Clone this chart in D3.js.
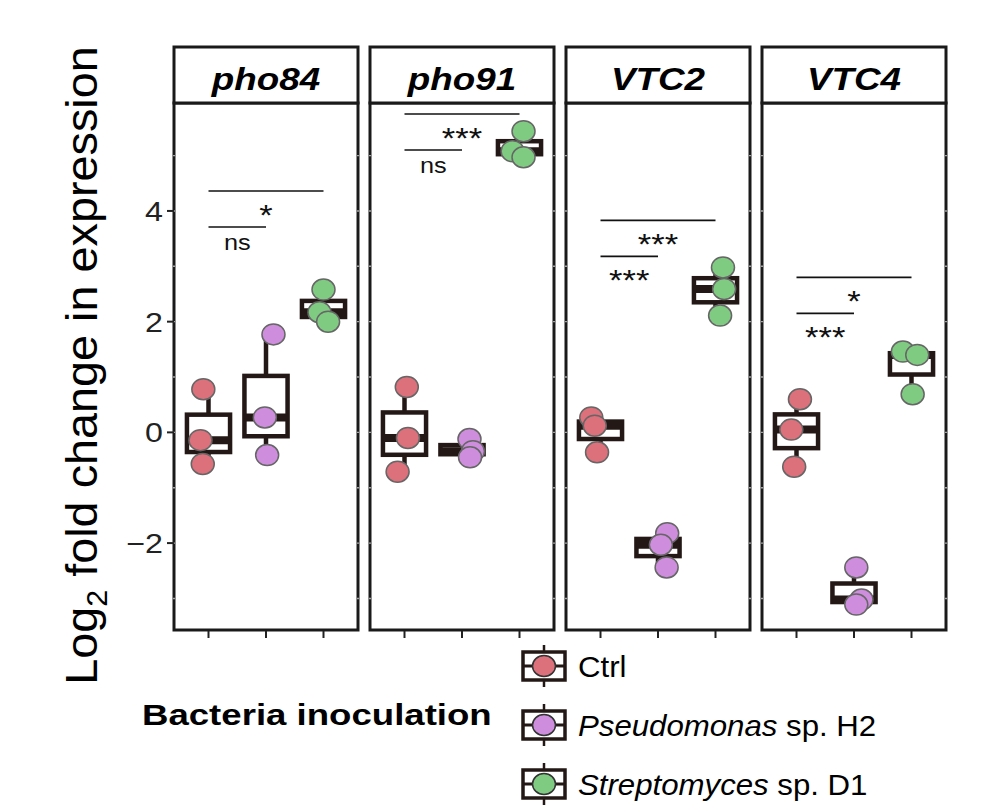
<!DOCTYPE html>
<html><head><meta charset="utf-8">
<script src="https://cdn.jsdelivr.net/npm/d3@7"></script>
<style>body{margin:0;background:#fff} svg{display:block} text{font-family:"Liberation Sans", Arial, sans-serif}</style>
</head><body>
<svg id="chart" width="1007" height="809"></svg>
<script>
// ---------------- data ----------------
const genes = ["pho84", "pho91", "VTC2", "VTC4"];
const groups = ["Ctrl", "Pseudomonas sp. H2", "Streptomyces sp. D1"];
const groupItalic = ["", "Pseudomonas", "Streptomyces"];
const groupRest = ["Ctrl", " sp. H2", " sp. D1"];
const groupColors = ["#dc707b", "#cf8edd", "#80cb82"];

// log2 fold change, three replicates per group (Ctrl, Pseudomonas, Streptomyces)
const pho84 = [[0.78, -0.14, -0.57], [1.77, 0.27, -0.41], [2.58, 2.17, 2.00]];
const pho91 = [[0.82, -0.10, -0.71], [-0.12, -0.34, -0.45], [5.44, 5.08, 4.97]];
const VTC2  = [[0.27, 0.12, -0.36], [-1.82, -2.03, -2.44], [2.98, 2.59, 2.11]];
const VTC4  = [[0.60, 0.05, -0.62], [-2.44, -3.02, -3.11], [1.46, 1.40, 0.69]];

// horizontal jitter of the replicate points (in category units)
const jit84 = [[-0.09, -0.14, -0.10], [0.13, -0.02, 0.02], [0.00, -0.07, 0.08]];
const jit91 = [[0.04, 0.06, -0.12], [0.13, 0.19, 0.14], [0.07, -0.12, 0.07]];
const jitV2 = [[-0.16, -0.10, -0.06], [0.16, 0.05, 0.15], [0.13, 0.15, 0.08]];
const jitV4 = [[0.06, -0.09, -0.04], [0.04, 0.13, 0.04], [-0.15, 0.10, 0.02]];

// significance brackets: [Ctrl vs Strep, Ctrl vs Pseudo] heights and labels
const sigY = [[4.36, 3.71], [5.75, 5.10], [3.83, 3.18], [2.80, 2.15]];
const sigLab = [["*", "ns"], ["***", "ns"], ["***", "***"], ["*", "***"]];

const yTicks = [-2, 0, 2, 4];
const yGrid = [-3, -2, -1, 0, 1, 2, 3, 4, 5];
const yDomain = [-3.57, 5.95];

const geneValues = [pho84, pho91, VTC2, VTC4];
const geneJitter = [jit84, jit91, jitV2, jitV4];

// ---------------- layout ----------------
const svg = d3.select("#chart");
const SX = 1.15;                  // horizontal text stretch of the original
const ink = "#231815";
const panelX0 = 174, panelW = 184, panelStep = 196;
const stripTop = 47, plotTop = 103, plotBottom = 630;

const y = d3.scaleLinear().domain(yDomain).range([plotBottom, plotTop]);
const panelScale = d3.scaleBand().domain(genes).range([panelX0, panelX0 + panelStep * 4]).paddingInner(0);

function stext(g, x, yy, str, opts) {
  const t = g.append("text")
    .attr("transform", `translate(${x},${yy}) scale(${opts.sx || SX},1)`)
    .attr("text-anchor", opts.anchor || "middle")
    .attr("font-size", opts.size)
    .attr("font-weight", opts.weight || "normal")
    .attr("font-style", opts.style || "normal")
    .attr("fill", opts.fill || "#000");
  if (str !== null) t.text(str);
  return t;
}

genes.forEach((gene, gi) => {
  const x0 = panelScale(gene);
  const g = svg.append("g");
  const x = d3.scalePoint().domain(groups).range([x0, x0 + panelW]).padding(0.6);
  const step = x.step();

  // panel background
  g.append("rect").attr("x", x0).attr("y", plotTop).attr("width", panelW)
    .attr("height", plotBottom - plotTop).attr("fill", "#fff");

  // significance brackets
  const pairs = [[groups[0], groups[2]], [groups[0], groups[1]]];
  pairs.forEach((p, k) => {
    const yy = y(sigY[gi][k]);
    const xa = x(p[0]), xb = x(p[1]);
    g.append("line").attr("x1", xa).attr("x2", xb).attr("y1", yy).attr("y2", yy)
      .attr("stroke", "#111").attr("stroke-width", 1.6);
    const lab = sigLab[gi][k];
    const isStar = lab.indexOf("*") >= 0;
    stext(g, (xa + xb) / 2, yy + (isStar ? 34 : 23), lab,
      {size: isStar ? 30 : 22, fill: "#111"});
  });

  // boxplots
  groups.forEach((grp, k) => {
    const vals = geneValues[gi][k].slice().sort(d3.ascending);
    const q1 = d3.quantile(vals, 0.25), med = d3.quantile(vals, 0.5), q3 = d3.quantile(vals, 0.75);
    const lo = d3.min(vals), hi = d3.max(vals);
    const cx = x(grp), hw = step * 0.375;
    g.append("line").attr("x1", cx).attr("x2", cx).attr("y1", y(hi)).attr("y2", y(q3))
      .attr("stroke", ink).attr("stroke-width", 4.5);
    g.append("line").attr("x1", cx).attr("x2", cx).attr("y1", y(q1)).attr("y2", y(lo))
      .attr("stroke", ink).attr("stroke-width", 4.5);
    g.append("rect").attr("x", cx - hw).attr("y", y(q3)).attr("width", 2 * hw)
      .attr("height", Math.max(0.1, y(q1) - y(q3)))
      .attr("fill", "#fff").attr("stroke", ink).attr("stroke-width", 4.5);
    g.append("line").attr("x1", cx - hw).attr("x2", cx + hw).attr("y1", y(med)).attr("y2", y(med))
      .attr("stroke", ink).attr("stroke-width", 8);
  });

  // points
  groups.forEach((grp, k) => {
    geneValues[gi][k].forEach((v, i) => {
      g.append("ellipse")
        .attr("cx", x(grp) + geneJitter[gi][k][i] * step)
        .attr("cy", y(v)).attr("rx", 11.5).attr("ry", 10.5)
        .attr("fill", groupColors[k]).attr("stroke", "#666").attr("stroke-width", 1.5);
    });
  });

  // panel border
  g.append("rect").attr("x", x0).attr("y", plotTop).attr("width", panelW)
    .attr("height", plotBottom - plotTop).attr("fill", "none")
    .attr("stroke", "#1a1a1a").attr("stroke-width", 3);

  // white grid notches on the borders
  yGrid.forEach(v => {
    [x0, x0 + panelW].forEach(bx => {
      g.append("line").attr("x1", bx - 0.6).attr("x2", bx + 0.6)
        .attr("y1", y(v)).attr("y2", y(v)).attr("stroke", "#fff").attr("stroke-width", 1.4);
    });
  });

  // bottom ticks
  groups.forEach(grp => {
    g.append("line").attr("x1", x(grp)).attr("x2", x(grp))
      .attr("y1", plotBottom + 1).attr("y2", plotBottom + 8)
      .attr("stroke", "#222").attr("stroke-width", 2);
  });

  // strip
  g.append("rect").attr("x", x0).attr("y", stripTop).attr("width", panelW)
    .attr("height", plotTop - stripTop).attr("fill", "#fff")
    .attr("stroke", "#1a1a1a").attr("stroke-width", 3);
  stext(g, x0 + panelW / 2, 90, gene, {size: 32, weight: "bold", style: "italic"});
});

// y axis (left of first panel)
const ax = svg.append("g");
yTicks.forEach(v => {
  ax.append("line").attr("x1", panelX0 - 7).attr("x2", panelX0)
    .attr("y1", y(v)).attr("y2", y(v)).attr("stroke", "#222").attr("stroke-width", 2);
  stext(ax, panelX0 - 11, y(v) + 10, v < 0 ? "\u2212" + Math.abs(v) : String(v),
    {size: 28, anchor: "end", fill: "#222"});
});

// y axis title
const yt = svg.append("text")
  .attr("transform", `translate(97,${(plotTop + plotBottom) / 2 - 1}) rotate(-90) scale(1.17,1.1)`)
  .attr("text-anchor", "middle").attr("font-size", 40).attr("fill", "#000");
yt.append("tspan").text("Log");
yt.append("tspan").attr("font-size", 26).attr("dy", 9).text("2");
yt.append("tspan").attr("dy", -9).text(" fold change in expression");

// legend
const lg = svg.append("g");
stext(lg, 142, 725, "Bacteria inoculation", {size: 30, weight: "bold", anchor: "start", sx: 1.22});
const legY = d3.scalePoint().domain(groups).range([666, 784]);
groups.forEach((grp, k) => {
  const cy = legY(grp), cx = 544;
  lg.append("line").attr("x1", cx).attr("x2", cx).attr("y1", cy - 21).attr("y2", cy + 21)
    .attr("stroke", ink).attr("stroke-width", 2.5);
  lg.append("rect").attr("x", cx - 21).attr("y", cy - 14).attr("width", 42).attr("height", 28)
    .attr("fill", "#fff").attr("stroke", ink).attr("stroke-width", 3.5);
  lg.append("line").attr("x1", cx - 21).attr("x2", cx + 21).attr("y1", cy).attr("y2", cy)
    .attr("stroke", ink).attr("stroke-width", 3);
  lg.append("ellipse").attr("cx", cx).attr("cy", cy).attr("rx", 11.5).attr("ry", 10.5)
    .attr("fill", groupColors[k]).attr("stroke", "#333").attr("stroke-width", 1.5);
  const t = stext(lg, 578, cy + 11, null, {size: 30, anchor: "start", sx: 1.04});
  if (groupItalic[k]) t.append("tspan").attr("font-style", "italic").text(groupItalic[k]);
  t.append("tspan").text(groupRest[k]);
});
</script>
</body></html>
